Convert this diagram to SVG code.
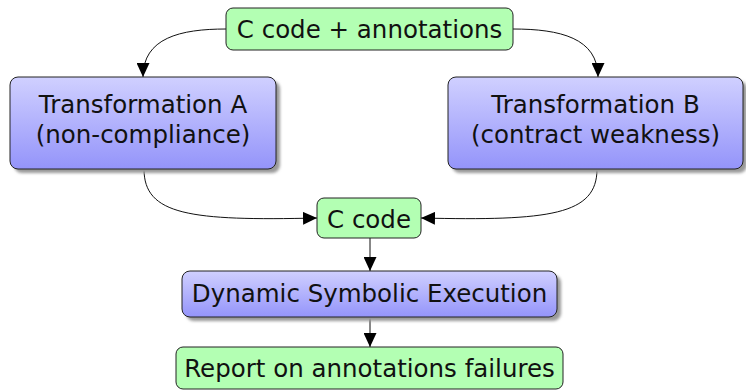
<svg xmlns="http://www.w3.org/2000/svg" width="746" height="391" viewBox="0 0 746 391">
<defs>
<linearGradient id="blue" x1="0" y1="0" x2="0" y2="1">
<stop offset="0" stop-color="#d0d0ff"/>
<stop offset="1" stop-color="#9494fa"/>
</linearGradient>
<filter id="sh" x="-10%" y="-20%" width="130%" height="160%">
<feGaussianBlur stdDeviation="1.5"/>
</filter>
<marker id="arr" viewBox="0 0 14 13" refX="14" refY="6.5" markerWidth="14" markerHeight="13" markerUnits="userSpaceOnUse" orient="auto">
<path d="M0,0 L14,6.5 L0,13 z" fill="#000"/>
</marker>
</defs>
<style>
.g{fill:#b3ffb3;stroke:#222;stroke-width:1}
.b{fill:url(#blue);stroke:#222;stroke-width:1}
.s{fill:#999;filter:url(#sh)}
text{font-family:"DejaVu Sans","Liberation Sans",sans-serif;font-size:24.5px;fill:#111;text-anchor:middle}
.c{fill:none;stroke:#111;stroke-width:1;marker-end:url(#arr)}
</style>
<g id="connectors">
<path class="c" d="M226,29 C180,29 143,38 143,77"/>
<path class="c" d="M513,29 C560,29 598,38 598,77"/>
<path class="c" d="M144,169 C144,215 190,221 317,218"/>
<path class="c" d="M597,169 C597,215 550,221 421,218"/>
<path class="c" d="M370,238 L370,271"/>
<path class="c" d="M370,317 L370,347"/>
</g>
<g id="top">
<rect class="g" x="226" y="8" width="287" height="42" rx="7"/>
<text x="369.5" y="38">C code + annotations</text>
</g>
<g id="transA">
<rect class="s" x="14" y="81" width="266" height="92" rx="8"/>
<rect class="b" x="10" y="77" width="266" height="92" rx="8"/>
<text x="143" y="113">Transformation A</text>
<text x="143" y="143">(non-compliance)</text>
</g>
<g id="transB">
<rect class="s" x="452" y="81" width="295" height="92" rx="8"/>
<rect class="b" x="448" y="77" width="295" height="92" rx="8"/>
<text x="595.5" y="113">Transformation B</text>
<text x="595.5" y="143">(contract weakness)</text>
</g>
<g id="ccode">
<rect class="g" x="317" y="198" width="104" height="40" rx="7"/>
<text x="369" y="228">C code</text>
</g>
<g id="dse">
<rect class="s" x="186" y="275" width="375" height="46" rx="8"/>
<rect class="b" x="182" y="271" width="375" height="46" rx="8"/>
<text x="369.5" y="302">Dynamic Symbolic Execution</text>
</g>
<g id="report">
<rect class="g" x="176" y="347" width="387" height="42" rx="7"/>
<text x="369.5" y="377">Report on annotations failures</text>
</g>
</svg>
